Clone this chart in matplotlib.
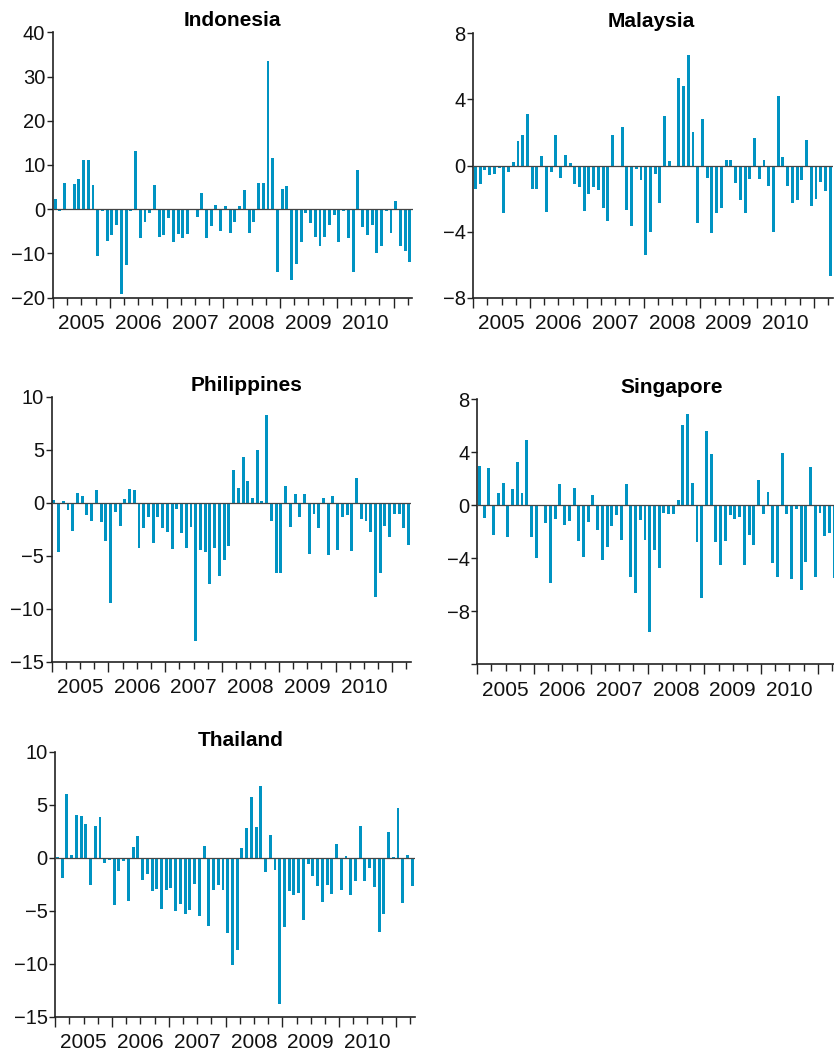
import matplotlib
matplotlib.use("Agg")
import matplotlib.pyplot as plt
import numpy as np

# monthly values, Jan 2005 .. Apr 2011
years = ["2005", "2006", "2007", "2008", "2009", "2010"]

indonesia = [2.3, -0.5, 5.9, 0, 5.7, 6.8, 11.1, 11.1, 5.5, -10.5, -0.3, -7.1,
             -5.8, -3.5, -19.2, -12.7, -0.3, 13.2, -6.4, -2.8, -0.8, 5.5, -6.2, -5.9,
             -1.9, -7.5, -5.5, -6.4, -5.7, 0, -1.7, 3.7, -6.6, -3.7, 1.0, -5.0,
             0.75, -5.3, -2.8, 0.7, 4.4, -5.3, -2.9, 5.9, 5.9, 33.5, 11.6, -14.3,
             4.6, 5.3, -16.1, -12.3, -7.3, -0.8, -3.0, -6.2, -8.2, -6.2, -3.5, -1.4,
             -7.5, -0.5, -6.4, -14.1, 8.9, -4.1, -5.9, -3.5, -10.0, -8.2, -0.5, -5.3,
             1.9, -8.2, -9.5, -12.0]

malaysia = [-1.4, -1.1, -0.26, -0.6, -0.5, -0.16, -2.9, -0.38, 0.22, 1.5, 1.85, 3.1,
            -1.4, -1.4, 0.58, -2.8, -0.38, 1.85, -0.73, 0.64, 0.16, -1.1, -1.33, -2.74,
            -1.7, -1.33, -1.47, -2.6, -3.35, 1.85, -0.06, 2.34, -2.7, -3.65, -0.2, -0.9,
            -5.4, -4.0, -0.5, -2.26, 3.0, 0.28, -0.08, 5.3, 4.8, 6.7, 2.04, -3.45,
            2.82, -0.73, -4.1, -2.9, -2.56, 0.34, 0.34, -1.05, -2.08, -2.86, -0.8, 1.67,
            -0.8, 0.34, -1.23, -4.0, 4.2, 0.52, -1.23, -2.26, -2.08, -0.87, 1.55, -2.44,
            -2.0, -1.0, -1.53, -6.67]

philippines = [0.25, -4.65, 0.16, -0.7, -2.67, 0.9, 0.63, -1.16, -1.73, 1.2, -1.82, -3.6,
               -9.47, -0.88, -2.2, 0.35, 1.29, 1.2, -4.28, -2.39, -1.35, -3.8, -1.35, -2.39,
               -2.77, -4.37, -0.6, -2.86, -4.28, -2.3, -13.05, -4.47, -4.65, -7.67, -4.28, -6.92,
               -5.4, -4.1, 3.08, 1.38, 4.3, 2.04, 0.44, 4.97, 0.16, 8.27, -1.73, -6.64,
               -6.64, 1.57, -2.3, 0.82, -1.35, 0.82, -4.84, -1.07, -2.39, 0.44, -4.94, 0.63,
               -4.47, -1.35, -1.16, -4.56, 2.33, -1.54, -1.73, -2.77, -8.9, -6.64, -2.2, -3.24,
               -1.07, -1.07, -2.39, -4.0]

singapore = [2.97, -0.96, 2.82, -2.24, 0.93, 1.69, -2.39, 1.23, 3.27, 0.93, 4.94, -2.39,
             -3.98, 0, -1.33, -5.87, -1.03, 1.61, -1.49, -1.18, 1.31, -2.7, -3.9, -1.26,
             0.78, -1.86, -4.13, -3.15, -1.56, -0.73, -2.62, 1.61, -5.42, -6.62, -1.1, -2.62,
             -9.57, -3.37, -4.73, -0.58, -0.65, -0.65, 0.4, 6.07, 6.9, 1.69, -2.77, -7.0,
             5.62, 3.88, -2.77, -4.5, -2.7, -0.73, -1.03, -0.88, -4.5, -2.24, -3.0, 1.91,
             -0.65, 1.0, -4.36, -5.42, 3.95, -0.65, -5.57, -0.28, -6.4, -4.28, 2.9, -5.42,
             -0.58, -2.32, -2.09, -5.49]

thailand = [0.05, -1.9, 6.0, 0.25, 4.03, 3.93, 3.18, -2.55, 2.99, 3.84, -0.47, -0.19,
            -4.43, -1.23, -0.28, -4.06, 1.0, 2.04, -2.08, -1.5, -3.11, -2.92, -4.81, -3.02,
            -2.83, -5.0, -4.34, -5.28, -4.9, -2.45, -5.47, 1.1, -6.42, -3.02, -2.55, -3.02,
            -7.08, -10.1, -8.68, 0.91, 2.8, 5.72, 2.89, 6.76, -1.32, 2.14, -1.13, -13.77,
            -6.5, -3.11, -3.49, -3.3, -5.85, -0.57, -1.7, -2.64, -4.15, -2.55, -3.4, 1.29,
            -3.02, 0.16, -3.49, -2.17, 2.99, -2.17, -0.94, -2.74, -6.98, -5.28, 2.42, 0.05,
            4.69, -4.25, 0.25, -2.64]

indonesia_ticks = [40, 30, 20, 10, 0, -10, -20]
malaysia_ticks = [8, 4, 0, -4, -8]
philippines_ticks = [10, 5, 0, -5, -10, -15]
singapore_ticks = [8, 4, 0, -4, -8, -12]
thailand_ticks = [10, 5, 0, -5, -10, -15]

bar_color = "#0093c2"
axis_color = "#222222"

plt.rcParams["font.family"] = ["Liberation Sans", "DejaVu Sans"]

W, H = 834, 1057
fig = plt.figure(figsize=(W / 100, H / 100), dpi=100)


def panel(left, top, bottom, title, values, ticks, title_x, show_last=True):
    ax = fig.add_axes([left / W, 1 - bottom / H, 359.5 / W, (bottom - top) / H])
    x = np.arange(len(values)) + 0.45
    ax.bar(x, values, width=0.62, color=bar_color, zorder=2)
    ax.axhline(0, color="#444444", lw=0.9, zorder=3)

    ax.set_xlim(0, 76)
    ax.set_ylim(min(ticks), max(ticks))
    ax.set_yticks(ticks)
    labels = [str(t) if t >= 0 else "\u2212" + str(-t) for t in ticks]
    if not show_last:
        labels[-1] = ""
    ax.set_yticklabels(labels)

    ax.set_xticks(np.arange(0, 76, 12))
    ax.set_xticks([m for m in range(3, 76, 3) if m % 12], minor=True)
    ax.set_xticklabels([])
    ax.tick_params(axis="x", which="major", length=7.5, width=1.0, color=axis_color)
    ax.tick_params(axis="x", which="minor", length=5.0, width=1.0, color=axis_color)
    ax.tick_params(axis="y", length=4, width=1.0, color=axis_color, pad=1.5,
                   labelsize=14.5, labelcolor="#111111")

    for s in ["top", "right"]:
        ax.spines[s].set_visible(False)
    for s in ["left", "bottom"]:
        ax.spines[s].set_color(axis_color)
        ax.spines[s].set_linewidth(1.2)

    for i, y in enumerate(years):
        ax.annotate(y, xy=(6 + 12 * i, 0), xycoords=("data", "axes fraction"),
                    xytext=(0, -12), textcoords="offset points",
                    ha="center", va="top", fontsize=15, color="#111111")

    ax.set_title(title, fontsize=15, fontweight="bold", pad=4.3)
    ax.title.set_x(title_x)
    return ax


panel(53, 32.3, 297.7, "Indonesia", indonesia, indonesia_ticks, 0.5)
panel(473.3, 33.3, 297.7, "Malaysia", malaysia, malaysia_ticks, 0.495)
panel(51.7, 396.7, 661.7, "Philippines", philippines, philippines_ticks, 0.543)
panel(477.3, 399.3, 664.3, "Singapore", singapore, singapore_ticks, 0.542, show_last=False)
panel(55.3, 751.7, 1016.7, "Thailand", thailand, thailand_ticks, 0.515)

fig.savefig("out.png", dpi=100)
